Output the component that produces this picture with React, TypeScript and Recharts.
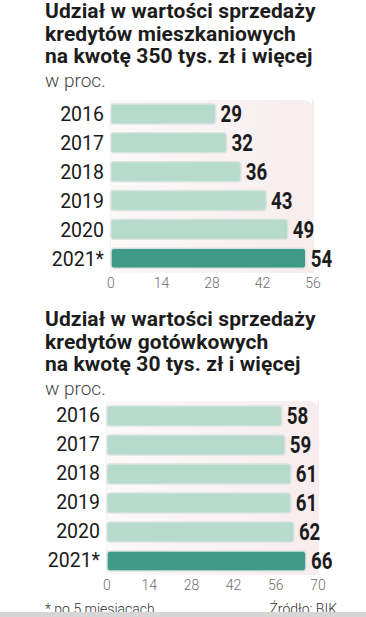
import { BarChart, Bar, XAxis, YAxis, CartesianGrid, Cell, LabelList, ReferenceArea } from 'recharts'

const years = ['2016', '2017', '2018', '2019', '2020', '2021*']
const mortgageShare = [29, 32, 36, 43, 49, 54]
const cashLoanShare = [58, 59, 61, 61, 62, 66]
const mortgageTicks = [0, 14, 28, 42, 56]
const cashLoanTicks = [0, 14, 28, 42, 56, 70]

const mortgageTitle = ['Udział w wartości sprzedaży', 'kredytów mieszkaniowych', 'na kwotę 350 tys. zł i więcej']
const cashLoanTitle = ['Udział w wartości sprzedaży', 'kredytów gotówkowych', 'na kwotę 30 tys. zł i więcej']

// narrow bold numbers next to the bars
function ValueLabel(props: any) {
  const { x, y, width, height, value } = props
  const tx = x + width + 5
  const ty = y + height / 2
  return (
    <text
      transform={`translate(${tx},${ty}) scale(0.78,1)`}
      dominantBaseline="central"
      fill="#1c1c1c"
      fontSize={24}
      fontWeight={700}
      fontFamily="Roboto"
    >
      {value}
    </text>
  )
}

interface ChartProps {
  id: string
  values: number[]
  ticks: number[]
  top: number
  left: number
  right: number
  plotHeight: number
}

function HBar({ id, values, ticks, top, left, right, plotHeight }: ChartProps) {
  const data = years.map((year, i) => ({ year, value: values[i] }))
  const max = ticks[ticks.length - 1]
  return (
    <div style={{ position: 'absolute', top, left: 0 }}>
      <BarChart
        width={366}
        height={plotHeight + 30}
        data={data}
        layout="vertical"
        margin={{ top: 0, right, bottom: 0, left: 0 }}
      >
        <defs>
          <linearGradient id={id + 'bg'} x1="0" y1="0" x2="1" y2="0">
            <stop offset="0%" stopColor="#fcf9f9" />
            <stop offset="100%" stopColor="#f7ecee" />
          </linearGradient>
        </defs>
        <ReferenceArea x1={0} x2={max} fill={`url(#${id}bg)`} fillOpacity={1} radius={[0, 9, 0, 0]} />
        <CartesianGrid horizontal={false} stroke="#ecdde1" />
        <XAxis
          type="number"
          domain={[0, max]}
          ticks={ticks}
          axisLine={false}
          tickLine={false}
          tickSize={4}
          tickMargin={1}
          height={30}
          tick={{ fill: '#6e6e6e', fontSize: 14, fontFamily: 'Roboto', fontWeight: 300 }}
        />
        <YAxis
          type="category"
          dataKey="year"
          width={left}
          axisLine={false}
          tickLine={false}
          tickSize={2}
          tickMargin={5}
          tick={{ fill: '#1a1a1a', fontSize: 19.5, fontFamily: 'Roboto' }}
        />
        <Bar
          dataKey="value"
          barSize={20}
          radius={3}
          stroke="#d9e3df"
          strokeWidth={1.5}
          isAnimationActive={false}
        >
          {data.map((d, i) => (
            <Cell key={d.year} fill={i === data.length - 1 ? '#3f9a86' : '#b6dbcd'} />
          ))}
          <LabelList dataKey="value" content={ValueLabel} />
        </Bar>
      </BarChart>
    </div>
  )
}

function Title({ lines, top }: { lines: string[]; top: number }) {
  return (
    <div style={{ position: 'absolute', left: 45, top }}>
      {lines.map((l) => (
        <div
          key={l}
          style={{ fontFamily: 'Roboto', fontWeight: 700, fontSize: 21, lineHeight: '22.5px', color: '#1c1c1c', letterSpacing: 0.1 }}
        >
          {l}
        </div>
      ))}
      <div style={{ fontFamily: 'Roboto', fontWeight: 300, fontSize: 19, lineHeight: '19px', marginTop: 3, color: '#444' }}>
        w proc.
      </div>
    </div>
  )
}

export default function App() {
  return (
    <div style={{ position: 'absolute', left: 0, top: 0, width: 366, height: 617, background: '#fff', overflow: 'hidden' }}>
      <Title lines={mortgageTitle} top={0} />
      <HBar id="m" values={mortgageShare} ticks={mortgageTicks} top={99.5} left={111} right={53} plotHeight={173} />
      <Title lines={cashLoanTitle} top={308} />
      <HBar id="c" values={cashLoanShare} ticks={cashLoanTicks} top={400.5} left={107} right={48} plotHeight={174} />
      <div style={{ position: 'absolute', left: 45, top: 601, fontFamily: 'Roboto', fontWeight: 300, fontSize: 14, color: '#333' }}>
        * po 5 miesiacach
      </div>
      <div style={{ position: 'absolute', right: 29, top: 601, fontFamily: 'Roboto', fontWeight: 300, fontSize: 14, color: '#333' }}>
        Źródło: BIK
      </div>
      <div style={{ position: 'absolute', left: 0, top: 612, width: 366, height: 5, background: '#d6d6d6' }} />
    </div>
  )
}
